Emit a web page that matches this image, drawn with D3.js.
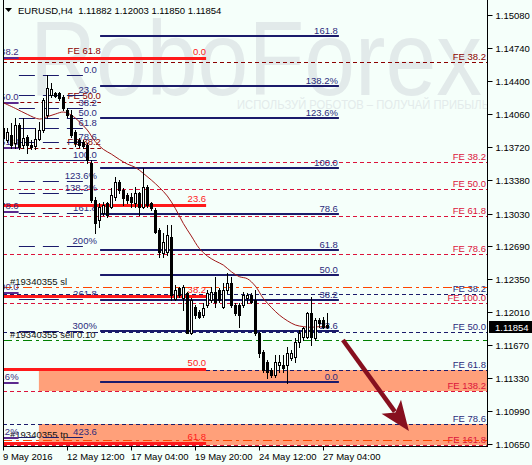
<!DOCTYPE html>
<html><head><meta charset="utf-8">
<script src="https://cdn.jsdelivr.net/npm/d3@7"></script>
<style>
html,body{margin:0;padding:0;background:#f5fffa;overflow:hidden;}
svg{display:block;}
</style></head><body>
<svg id="chart" width="532" height="465"></svg>
<script>
// ---------------- DATA ----------------
const titleText = "EURUSD,H4  1.11882 1.12003 1.11850 1.11854";
const timeLabels = ["9 May 2016","12 May 12:00","17 May 04:00","19 May 20:00","24 May 12:00","27 May 04:00"];
const timeTickIdx = [0,16,32,48,64,80];
const priceTicks = [1.15080,1.14740,1.14400,1.14060,1.13720,1.13380,1.13030,1.12690,1.12350,1.12010,1.11670,1.11330,1.10990,1.10650];
const lastPrice = 1.11854;

const opens = [1.13910,1.13789,1.13841,1.13755,1.13944,1.13737,1.13824,1.13737,1.13727,1.13796,
1.13892,1.14047,1.14254,1.14278,1.14278,1.14230,1.14099,1.14047,1.13875,1.13789,
1.13772,1.13737,1.13548,1.13169,1.12963,1.13032,1.13135,1.13101,1.13204,1.13359,
1.13273,1.13221,1.13204,1.13135,1.13238,1.13101,1.13307,1.13135,1.13066,1.12860,
1.12619,1.12636,1.12791,1.12144,1.12257,1.12154,1.12206,1.11800,1.12068,1.12017,
1.11982,1.12085,1.12137,1.12223,1.12240,1.12068,1.12240,1.12309,1.12085,1.12085,
1.12085,1.12154,1.12188,1.12137,1.11793,1.11603,1.11500,1.11414,1.11362,1.11465,
1.11465,1.11465,1.11534,1.11552,1.11707,1.11758,1.11758,1.11999,1.11741,1.11930,
1.11930,1.11882];
const highs = [1.13944,1.13910,1.13961,1.14013,1.13961,1.14013,1.13841,1.13789,1.13910,1.13978,
1.14219,1.14460,1.14374,1.14288,1.14288,1.14254,1.14116,1.14099,1.13892,1.13806,
1.13789,1.13755,1.13582,1.13204,1.13135,1.13152,1.13152,1.13290,1.13410,1.13376,
1.13290,1.13238,1.13238,1.13307,1.13255,1.13496,1.13324,1.13152,1.13083,1.12877,
1.12825,1.12911,1.12911,1.12292,1.12275,1.12292,1.12223,1.12154,1.12085,1.12034,
1.12103,1.12240,1.12275,1.12378,1.12257,1.12309,1.12412,1.12378,1.12103,1.12103,
1.12223,1.12206,1.12206,1.12240,1.11810,1.11620,1.11517,1.11431,1.11569,1.11569,
1.11569,1.11655,1.11620,1.11741,1.11827,1.11862,1.12017,1.12171,1.11948,1.11948,
1.11965,1.12003];
const lows = [1.13772,1.13772,1.13703,1.13703,1.13693,1.13703,1.13651,1.13693,1.13693,1.13789,
1.13875,1.14013,1.14237,1.14230,1.14202,1.14099,1.14030,1.13824,1.13727,1.13713,
1.13703,1.13548,1.13152,1.12825,1.12894,1.13014,1.12997,1.13083,1.13169,1.13238,
1.13118,1.13135,1.13101,1.13101,1.13014,1.13083,1.13101,1.13066,1.12832,1.12584,
1.12584,1.12601,1.12137,1.12137,1.12171,1.12034,1.11793,1.11786,1.11948,1.11948,
1.11965,1.12068,1.12120,1.12068,1.12120,1.12051,1.12206,1.12068,1.11982,1.11862,
1.12068,1.12103,1.12103,1.11775,1.11552,1.11397,1.11328,1.11345,1.11345,1.11397,
1.11397,1.11276,1.11517,1.11500,1.11655,1.11724,1.11741,1.11672,1.11724,1.11862,
1.11844,1.11850];
const closes = [1.13806,1.13875,1.13737,1.13944,1.13720,1.13806,1.13737,1.13713,1.13796,1.13892,
1.14202,1.14322,1.14312,1.14243,1.14219,1.14116,1.14047,1.13841,1.13755,1.13737,
1.13727,1.13582,1.13169,1.12928,1.13101,1.13118,1.13014,1.13221,1.13359,1.13273,
1.13187,1.13169,1.13152,1.13238,1.13101,1.13307,1.13118,1.13083,1.12842,1.12636,
1.12739,1.12808,1.12188,1.12240,1.12188,1.12275,1.11800,1.12137,1.11982,1.11965,
1.12051,1.12206,1.12223,1.12120,1.12137,1.12240,1.12309,1.12085,1.11999,1.11982,
1.12188,1.12188,1.12120,1.11793,1.11586,1.11414,1.11397,1.11362,1.11500,1.11500,
1.11431,1.11586,1.11586,1.11707,1.11793,1.11844,1.11999,1.11758,1.11930,1.11896,
1.11862,1.11854];

// moving average (bar index, price)
const maIdx = [0,3,6,9,11,13,15,17,19,21,23,25,27,29,31,33,35,37,39,41,43,45,47,49,51,53,55,57,59,61,63,65,67,69,71,73,75,77,79,81];
const maVal = [1.14174,1.14116,1.14054,1.14006,1.14030,1.14057,1.14078,1.14047,1.13978,1.13892,
1.13772,1.13693,1.13644,1.13589,1.13541,1.13507,1.13445,1.13376,1.13300,1.13211,
1.13083,1.12928,1.12798,1.12670,1.12591,1.12540,1.12498,1.12429,1.12378,1.12357,
1.12281,1.12154,1.12061,1.11982,1.11923,1.11879,1.11862,1.11855,1.11862,1.11862];

// Fibonacci objects: anchors = [price at 0%, price at 100%]
const fibRightRatios = [0,23.6,38.2,50,61.8,78.6,100,123.6,138.2,161.8];
const fibRightLabels = ["0.0","23.6","38.2","50.0","61.8","78.6","100.0","123.6%","138.2%","161.8"];
const fibRightAnchors = [1.11295,1.13500];
const fibLeftRatios = [0,23.6,38.2,50,61.8,78.6,100,123.6,138.2,161.8,200,261.8,300,423.6];
const fibLeftLabels = ["0.0","23.6","38.2","50.0","61.8","78.6","100.0","123.6%","138.2%","161.8","200%","261.8","300%","423.6"];
const fibLeftAnchors = [1.14460,1.13578];
const fibRedRatios = [0,23.6,38.2,50,61.8];
const fibRedLabels = ["0.0","23.6","38.2","50.0","61.8"];
const fibRedAnchors = [1.14636,1.08204];
const fibPurpleRatios = [38.2,50,61.8,78.6,100,123.6,138.2];
const fibPurpleLabels = ["38.2","50.0","61.8","78.6","100.0","123.6%","138.2%"];
const fibPurpleAnchors = [1.16133,1.12209];

const feLeftRatios = [61.8,50,38.2];
const feLeftLabels = ["FE 61.8","FE 50.0","FE 38.2"];
const feLeftAnchors = [1.12189,1.16164];
const feTopRatios = [38.2];
const feTopLabels = ["FE 38.2"];
const feTopPrices = [1.14595];
const feCrimsonRatios = [38.2,50,61.8,78.6,100,138.2,161.8];
const feCrimsonLabels = ["FE 38.2","FE 50.0","FE 61.8","FE 78.6","FE 100.0","FE 138.2","FE 161.8"];
const feCrimsonAnchors = [1.14465,1.12101];
const feNavyRatios = [38.2,50,61.8,78.6];
const feNavyLabels = ["FE 38.2","FE 50.0","FE 61.8","FE 78.6"];
const feNavyAnchors = [1.13469,1.10144];

// trade lines
const tradeLabels = ["#19340355 sl","#19340355 sell 0.10","#19340355 tp"];
const tradePrices = [1.12271,1.11724,1.10691];

// arrow (bar index, price)
const arrowIdx = [84.9,101.4];
const arrowPrice = [1.11724,1.10784];

// object time spans (bar index)
const spanFibRight = [24.2,83.9];
const spanFibLeft = [3.9,23.4];
const spanFibRed = [-1,50.7];
const spanFeLeft = [-1,24.4];
const spanPurple = [-1,3.7];
const zoneStartIdx = 8.9;

// ---------------- DRAW ----------------
const W = 532, H = 465;
const plot = {l:3, r:487, t:0, b:446};
const FONT = '"Liberation Sans", Arial, sans-serif';
const FS = 9.5;
const NAVY = "#1b1b6b", NAVYT = "#2b2b7c", RED = "#ff1a1a", DARKRED = "#8b0000",
      CRIMSON = "#dc143c", PURPLE = "#5b2a8e", SALMON = "#ffa07a";

const svg = d3.select("#chart").attr("font-family", FONT);
svg.append("rect").attr("width", W).attr("height", H).attr("fill", "#f5fffa");

const x = d3.scaleLinear().domain([0, 81]).range([3.3, 327.3]);
const y = d3.scaleLinear().domain([1.10650, 1.15080]).range([444, 15]);
const lvl = (a, r) => a[0] + (a[1] - a[0]) * r / 100;
const py = (p, w) => Math.round(y(p)) + ((w || 1) % 2 ? 0.5 : 0);

svg.append("defs").append("clipPath").attr("id", "pc")
  .append("rect").attr("x", plot.l).attr("y", 0).attr("width", plot.r - plot.l).attr("height", plot.b);
const P = svg.append("g").attr("clip-path", "url(#pc)");

// watermark
P.append("text").attr("x", 30).attr("y", 95).attr("font-size", 105)
  .attr("fill", "#e2eaea").attr("textLength", 452).attr("lengthAdjust", "spacingAndGlyphs")
  .text("RoboForex");
P.append("text").attr("x", 237).attr("y", 109).attr("font-size", 12.5)
  .attr("fill", "#e3ebeb").attr("textLength", 252).attr("lengthAdjust", "spacingAndGlyphs")
  .text("ИСПОЛЬЗУЙ РОБОТОВ – ПОЛУЧАЙ ПРИБЫЛЬ");

function hline(p, x1, x2, color, w, dash) {
  const yy = py(p, w);
  const l = P.append("line").attr("x1", x1).attr("x2", x2).attr("y1", yy).attr("y2", yy)
    .attr("stroke", color).attr("stroke-width", w || 1);
  if (dash) l.attr("stroke-dasharray", dash);
  return l;
}
function label(p, xr, txt, color, off, anchor) {
  P.append("text").attr("x", xr).attr("y", Math.round(y(p)) - (off || 2))
    .attr("text-anchor", anchor || "end").attr("font-size", FS).attr("fill", color).text(txt);
}

// salmon zones
const zones = [
  [lvl(feNavyAnchors, 61.8), lvl(feCrimsonAnchors, 138.2)],
  [lvl(feNavyAnchors, 78.6), lvl(feCrimsonAnchors, 161.8)]
];
zones.forEach(z => {
  P.append("rect").attr("x", x(zoneStartIdx)).attr("width", plot.r - x(zoneStartIdx))
    .attr("y", Math.round(y(z[0]))).attr("height", Math.round(y(z[1])) - Math.round(y(z[0])))
    .attr("fill", SALMON);
});

// full-width FE dashed lines
feCrimsonRatios.forEach((r, i) => {
  const p = lvl(feCrimsonAnchors, r);
  hline(p, plot.l, plot.r, CRIMSON, 1, "4,3");
  label(p, plot.r - 1, feCrimsonLabels[i], CRIMSON, 2);
});
feNavyRatios.forEach((r, i) => {
  const p = lvl(feNavyAnchors, r);
  hline(p, plot.l, plot.r, NAVY, 1, "4,3");
  label(p, plot.r - 1, feNavyLabels[i], NAVYT, 2);
});
feTopPrices.forEach((p, i) => {
  hline(p, plot.l, plot.r, DARKRED, 1, "4,3");
  label(p, plot.r - 1, feTopLabels[i], DARKRED, 2);
});

// trade lines
const tradeColors = ["#ff4500", "#008000", "#ff4500"];
tradePrices.forEach((p, i) => {
  hline(p, plot.l, plot.r, tradeColors[i], 1, "9,4,3,4");
  P.append("text").attr("x", 10).attr("y", Math.round(y(p)) - 2)
    .attr("font-size", FS).attr("fill", "#111").text(tradeLabels[i]);
});

// left FE (dark red)
feLeftRatios.forEach((r, i) => {
  const p = lvl(feLeftAnchors, r);
  hline(p, x(spanFeLeft[0]), x(spanFeLeft[1]), DARKRED, 1, "4,3");
  label(p, x(spanFeLeft[1]), feLeftLabels[i], DARKRED, 3);
});

// left navy fib (dashed)
fibLeftRatios.forEach((r, i) => {
  const p = lvl(fibLeftAnchors, r);
  const solid = r === 100;
  hline(p, x(spanFibLeft[0]), solid ? x(spanFibLeft[1]) : x(spanFibLeft[1]) - 13, NAVY, 1, solid ? null : "16,8");
  label(p, x(spanFibLeft[1]), fibLeftLabels[i], NAVYT, 2);
});

// right navy fib
fibRightRatios.forEach((r, i) => {
  const p = lvl(fibRightAnchors, r);
  hline(p, x(spanFibRight[0]), x(spanFibRight[1]), NAVY, 2);
  label(p, x(spanFibRight[1]) - 1, fibRightLabels[i], NAVYT, 2);
});

// red fib
fibRedRatios.forEach((r, i) => {
  const p = lvl(fibRedAnchors, r);
  hline(p, x(spanFibRed[0]), x(spanFibRed[1]), RED, 3);
  label(p, x(spanFibRed[1]), fibRedLabels[i], RED, 3);
});

// purple fib (mostly off-screen left)
fibPurpleRatios.forEach((r, i) => {
  const p = lvl(fibPurpleAnchors, r);
  hline(p, plot.l, x(spanPurple[1]) + 0.5, PURPLE, 2);
  label(p, x(spanPurple[1]) + 0.5, fibPurpleLabels[i], "#3a2a80", 3);
});

// moving average
const maLine = d3.line().x(d => x(d[0])).y(d => y(d[1])).curve(d3.curveCatmullRom);
P.append("path").datum(maIdx.map((d, i) => [d, maVal[i]]))
  .attr("d", maLine).attr("fill", "none").attr("stroke", "#a01818").attr("stroke-width", 1);

// candles
const C = P.append("g");
opens.forEach((o, i) => {
  const h = highs[i], l = lows[i], c = closes[i];
  const n = Math.round(x(i));
  const cx = n + 0.5;
  C.append("line").attr("x1", cx).attr("x2", cx)
    .attr("y1", Math.round(y(h))).attr("y2", Math.round(y(l)) + 1)
    .attr("stroke", "#000").attr("stroke-width", 1);
  const top = Math.round(y(Math.max(o, c))), bot = Math.round(y(Math.min(o, c)));
  if (c > o) {
    C.append("rect").attr("x", n - 0.5).attr("y", top + 0.5)
      .attr("width", 2).attr("height", Math.max(bot - top, 1))
      .attr("fill", "#fff").attr("stroke", "#000").attr("stroke-width", 1);
  } else {
    C.append("rect").attr("x", n - 1).attr("y", top)
      .attr("width", 3).attr("height", Math.max(bot - top, 1) + 1)
      .attr("fill", "#000");
  }
});

// arrow
(function () {
  const x0 = x(arrowIdx[0]), y0 = y(arrowPrice[0]);
  const x1 = x(arrowIdx[1]), y1 = y(arrowPrice[1]);
  const dx = x1 - x0, dy = y1 - y0, L = Math.hypot(dx, dy);
  const ux = dx / L, uy = dy / L, nx = -uy, ny = ux;
  const hl = 30, hw = 12;
  const bx = x1 - ux * hl, by = y1 - uy * hl;
  const col = "#87101f";
  P.append("line").attr("x1", x0).attr("y1", y0).attr("x2", bx + ux * 6).attr("y2", by + uy * 6)
    .attr("stroke", col).attr("stroke-width", 4.5);
  const pts = [[x1, y1], [bx + nx * hw, by + ny * hw], [bx + ux * 7, by + uy * 7], [bx - nx * hw, by - ny * hw]];
  P.append("polygon").attr("points", pts.map(p => p.join(",")).join(" ")).attr("fill", col);
})();

// title
svg.append("polygon").attr("points", "5,8 12,8 8.5,12").attr("fill", "#000");
svg.append("text").attr("x", 18).attr("y", 14).attr("font-size", FS).attr("fill", "#000")
  .attr("xml:space", "preserve").style("white-space", "pre").text(titleText);

// frame
svg.append("line").attr("x1", plot.l + 0.5).attr("x2", plot.l + 0.5).attr("y1", 0).attr("y2", plot.b + 1).attr("stroke", "#000");
svg.append("line").attr("x1", plot.r + 0.5).attr("x2", plot.r + 0.5).attr("y1", 0).attr("y2", plot.b + 1).attr("stroke", "#000");
svg.append("line").attr("x1", plot.l).attr("x2", plot.r + 1).attr("y1", plot.b + 0.5).attr("y2", plot.b + 0.5).attr("stroke", "#000");

// right axis
const ax = svg.append("g").attr("transform", `translate(${plot.r + 0.5},0)`)
  .call(d3.axisRight(y).tickValues(priceTicks).tickSize(5).tickPadding(3).tickFormat(d3.format(".5f")));
ax.select(".domain").remove();
ax.selectAll("text").attr("font-size", FS).attr("font-family", FONT).attr("fill", "#000");
ax.selectAll(".tick").attr("transform", d => `translate(0,${Math.round(y(d)) + 0.5})`);

// bottom axis
const bxAxis = svg.append("g").attr("transform", `translate(0,${plot.b + 0.5})`)
  .call(d3.axisBottom(x).tickValues(timeTickIdx).tickSize(4).tickPadding(3).tickFormat((d, i) => timeLabels[i]));
bxAxis.select(".domain").remove();
bxAxis.selectAll(".tick").attr("transform", d => `translate(${Math.round(x(d)) + 0.5},0)`);
bxAxis.selectAll("text").attr("font-size", FS).attr("font-family", FONT).attr("fill", "#000")
  .attr("text-anchor", "start").attr("x", -0.5);

// current price tag
const yl = Math.round(y(lastPrice));
svg.append("rect").attr("x", plot.r + 2).attr("y", yl - 6).attr("width", W - plot.r - 2).attr("height", 12).attr("fill", "#000");
svg.append("text").attr("x", plot.r + 8).attr("y", yl + 3.5).attr("font-size", FS).attr("fill", "#fff")
  .text(d3.format(".5f")(lastPrice));
</script>
</body></html>
